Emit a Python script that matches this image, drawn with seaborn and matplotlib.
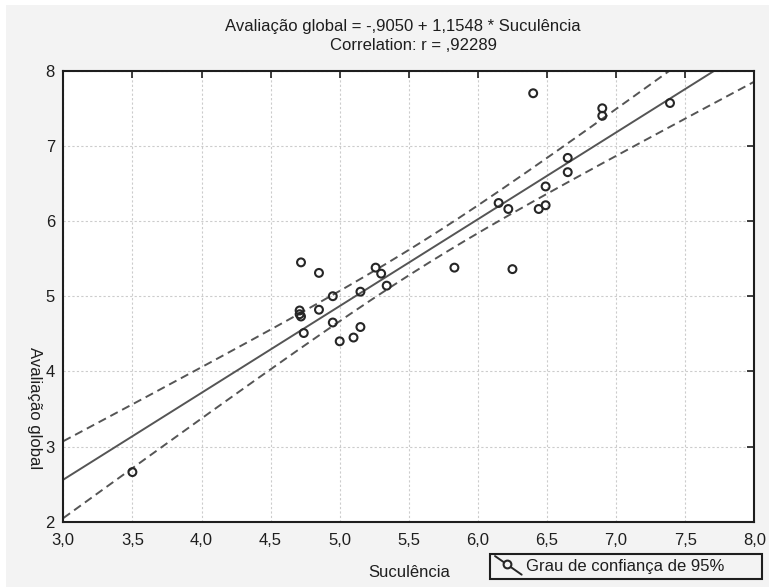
import numpy as np
import pandas as pd
import matplotlib
matplotlib.use("Agg")
import matplotlib.pyplot as plt
import seaborn as sns
from matplotlib.lines import Line2D
from matplotlib.legend_handler import HandlerBase
from matplotlib.patches import Rectangle

# ---- data ----
suculencia = [3.50, 4.71, 4.71, 4.72, 4.72, 4.74, 4.85, 4.85, 4.95, 4.95,
              5.00, 5.10, 5.15, 5.15, 5.26, 5.30, 5.34, 5.83, 6.15, 6.22,
              6.25, 6.40, 6.44, 6.49, 6.49, 6.65, 6.65, 6.90, 6.90, 7.39]
avaliacao = [2.66, 4.81, 4.76, 4.73, 5.45, 4.51, 5.31, 4.82, 5.00, 4.65,
             4.40, 4.45, 5.06, 4.59, 5.38, 5.30, 5.14, 5.38, 6.24, 6.16,
             5.36, 7.70, 6.16, 6.46, 6.21, 6.84, 6.65, 7.50, 7.40, 7.57]
intercept = -0.9050
slope = 1.1548
t_crit = 2.048  # t(0.975, df=28)
x_ticks = [3.0, 3.5, 4.0, 4.5, 5.0, 5.5, 6.0, 6.5, 7.0, 7.5, 8.0]
x_ticklabels = ["3,0", "3,5", "4,0", "4,5", "5,0", "5,5", "6,0", "6,5", "7,0", "7,5", "8,0"]
y_ticks = [2, 3, 4, 5, 6, 7, 8]
title1 = "Avaliação global = -,9050 + 1,1548 * Suculência"
title2 = "Correlation: r = ,92289"
xlabel = "Suculência"
ylabel = "Avaliação global"
legend_label = "Grau de confiança de 95%"

df = pd.DataFrame({"Suculência": suculencia, "Avaliação global": avaliacao})

# regression line and analytical 95% confidence band
x = np.asarray(suculencia)
y = np.asarray(avaliacao)
n = len(x)
resid = y - (intercept + slope * x)
s = np.sqrt(np.sum(resid ** 2) / (n - 2))
sxx = np.sum((x - x.mean()) ** 2)
xg = np.linspace(3.0, 8.0, 300)
yg = intercept + slope * xg
hw = t_crit * s * np.sqrt(1.0 / n + (xg - x.mean()) ** 2 / sxx)
band = pd.DataFrame({"x": xg, "fit": yg, "lo": yg - hw, "hi": yg + hw})

# ---- style ----
sns.set_style("white")
plt.rcParams["font.family"] = ["Liberation Sans", "DejaVu Sans"]
plt.rcParams["lines.scale_dashes"] = False

FS = 12
TXT = "#1e1e1e"
BG = "#f3f3f3"
fig = plt.figure(figsize=(7.69, 5.87), dpi=100, facecolor=BG)
# white strips at top and left edge as in reference
fig.patches.append(Rectangle((0, 0), 6 / 769, 1, transform=fig.transFigure,
                             facecolor="white", edgecolor="none", zorder=-10))
fig.patches.append(Rectangle((0, 1 - 5 / 587), 1, 5 / 587, transform=fig.transFigure,
                             facecolor="white", edgecolor="none", zorder=-10))

ax = fig.add_axes([63.3 / 769, 1 - 521.7 / 587, 691 / 769, 451 / 587])
ax.set_facecolor("white")

# grid
ax.set_xticks(x_ticks)
ax.set_yticks(y_ticks)
ax.grid(True, color="#cccccc", linewidth=0.8, linestyle=(0, (1.6, 1.6)))
ax.set_axisbelow(True)

# lines
sns.lineplot(data=band, x="x", y="fit", ax=ax, color="#555555", linewidth=1.4,
             estimator=None, sort=False, zorder=2)
for col in ["lo", "hi"]:
    sns.lineplot(data=band, x="x", y=col, ax=ax, color="#555555", linewidth=1.4,
                 estimator=None, sort=False, zorder=2, dashes=False,
                 linestyle=(0, (6, 3.6)))

# points
sns.scatterplot(data=df, x="Suculência", y="Avaliação global", ax=ax,
                marker="o", s=32, facecolor="none", edgecolor="#262626",
                linewidth=1.5, zorder=3)

ax.set_xlim(3.0, 8.0)
ax.set_ylim(2, 8)
ax.set_xticklabels(x_ticklabels)
ax.set_yticklabels([str(v) for v in y_ticks])

for sp in ax.spines.values():
    sp.set_visible(True)
    sp.set_color(TXT)
    sp.set_linewidth(1.5)

ax.tick_params(axis="both", which="both", direction="in", length=5, width=1.2,
               color=TXT, top=True, right=True, labelsize=FS,
               labelcolor=TXT)
ax.tick_params(axis="x", pad=8)
ax.tick_params(axis="y", pad=6)

ax.set_xlabel(xlabel, fontsize=FS, color=TXT)
ax.xaxis.set_label_coords(0.5, -0.096)
ax.set_ylabel(ylabel, fontsize=FS, color=TXT, rotation=270, va="center")
ax.yaxis.set_label_coords(-0.041, 0.252)

fig.text(403 / 769, 1 - 27 / 587, title1, ha="center", va="center",
         fontsize=FS, color=TXT)
fig.text(413 / 769, 1 - 46 / 587, title2, ha="center", va="center",
         fontsize=FS, color=TXT)


# legend with sloped handle
class SlopedHandler(HandlerBase):
    def create_artists(self, legend, orig_handle, xdescent, ydescent,
                       width, height, fontsize, trans):
        x0, x1 = -xdescent, width - xdescent
        y0, y1 = height + 2 - ydescent, -3 - ydescent
        ln = Line2D([x0, x1], [y0, y1], color="#262626", lw=1.4, transform=trans)
        fx = 0.45
        mk = Line2D([x0 + fx * (x1 - x0)], [y0 + fx * (y1 - y0)], marker="o",
                    markersize=5.6, markerfacecolor=BG, markeredgecolor="#262626",
                    markeredgewidth=1.5, linestyle="none", transform=trans)
        return [ln, mk]


handle = Line2D([], [], color="#262626")
leg = fig.legend([handle], [legend_label], handler_map={Line2D: SlopedHandler()},
                 loc="center left",
                 bbox_to_anchor=(490 / 769, 1 - 580 / 587, 272 / 769, 28 / 587),
                 mode="expand", borderaxespad=0, fancybox=False, frameon=True,
                 edgecolor=TXT, facecolor=BG, framealpha=1,
                 fontsize=FS, handlelength=1.6, handletextpad=0.25,
                 borderpad=0.3)
leg.get_frame().set_linewidth(1.5)
for t in leg.get_texts():
    t.set_color(TXT)

fig.savefig("out.png", dpi=100, facecolor=BG)
